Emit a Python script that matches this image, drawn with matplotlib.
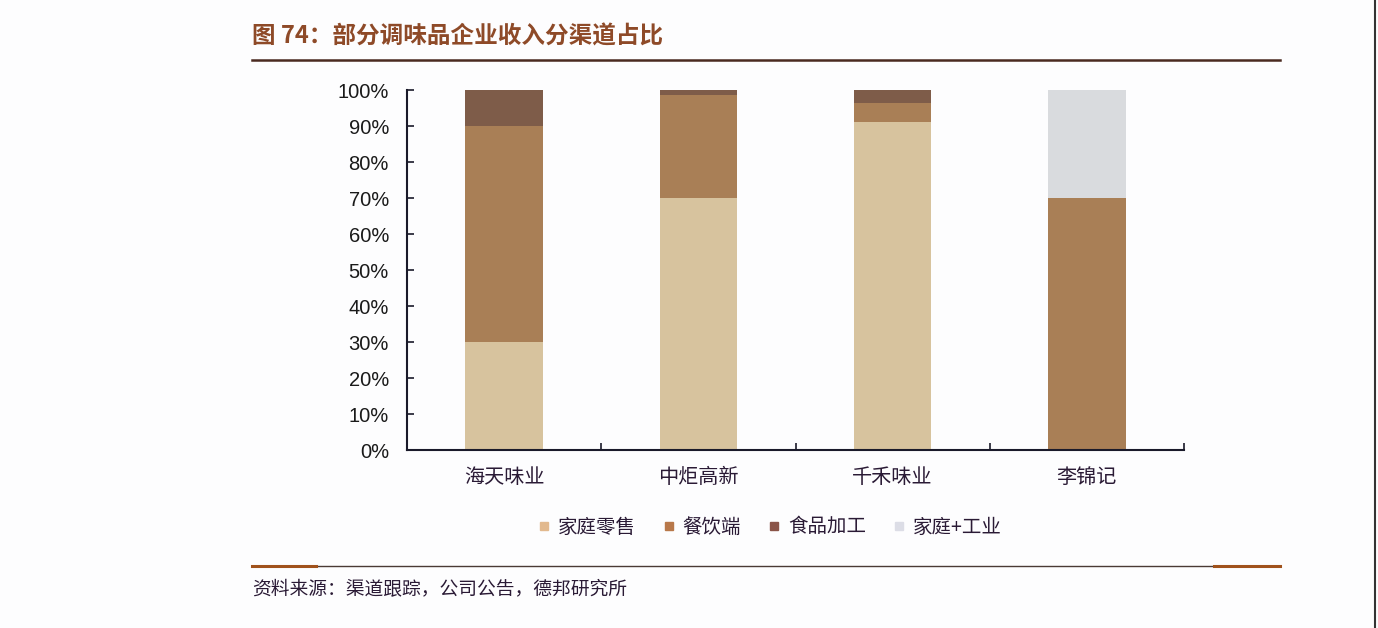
import matplotlib
matplotlib.use("Agg")
import matplotlib.pyplot as plt
from matplotlib.lines import Line2D
from matplotlib.ticker import FixedLocator, PercentFormatter
import numpy as np

plt.rcParams['font.family'] = ['Noto Sans CJK SC', 'DejaVu Sans']

categories = ['海天味业', '中炬高新', '千禾味业', '李锦记']
series_names = ['家庭零售', '餐饮端', '食品加工', '家庭+工业']
home_retail = [30, 70, 91, 0]
catering = [60, 28.5, 5.5, 70]
food_processing = [10, 1.5, 3.5, 0]
home_industry = [0, 0, 0, 30]
yticks = [0, 10, 20, 30, 40, 50, 60, 70, 80, 90, 100]

title = '图 74：部分调味品企业收入分渠道占比'
source = '资料来源：渠道跟踪，公司公告，德邦研究所'

colors = ['#D7C39E', '#A97F56', '#7E5C49', '#D9DBDE']
legend_colors = ['#E2B98E', '#B8784A', '#8A5448', '#DCDDE6']

fig = plt.figure(figsize=(13.78, 6.28), dpi=100)
fig.patch.set_facecolor('#FDFDFE')

ax = fig.add_axes([407/1378, 1-450/628, (1184-407)/1378, 360/628])
ax.set_facecolor('none')

x = np.arange(len(categories))
bottom = np.zeros(len(categories))
handles = []
for vals, name, c, lc in zip([home_retail, catering, food_processing, home_industry],
                             series_names, colors, legend_colors):
    v = np.array(vals, dtype=float)
    ax.bar(x, v, bottom=bottom, width=0.4, color=c, label=name, linewidth=0)
    bottom += v
    handles.append(Line2D([0], [0], marker='s', linestyle='none', markersize=6,
                          markerfacecolor=lc, markeredgecolor=lc, label=name))

ax.set_xlim(-0.5, len(categories) - 0.5)
ax.set_ylim(0, 100)
ax.yaxis.set_major_locator(FixedLocator(yticks))
ax.yaxis.set_major_formatter(PercentFormatter(decimals=0))
ax.set_xticks(x)
ax.set_xticklabels(categories, fontsize=14.5, color='#2A1A35')
ax.tick_params(axis='x', length=0, pad=12)
ax.set_xticks(np.arange(len(categories) + 1) - 0.5, minor=True)
ax.tick_params(axis='x', which='minor', direction='in', length=5, width=1.2, color='#1A1A2A')
ax.tick_params(axis='y', direction='in', length=5, width=1.2, color='#1A1A2A',
               labelsize=14.5, labelcolor='#1A1A1A', pad=13)
for lbl in ax.get_yticklabels():
    lbl.set_family(['Liberation Sans', 'DejaVu Sans'])
for s in ['top', 'right']:
    ax.spines[s].set_visible(False)
for s in ['left', 'bottom']:
    ax.spines[s].set_linewidth(1.5)
    ax.spines[s].set_color('#1A1A2A')

fig.legend(handles=handles, loc='center', bbox_to_anchor=(768/1378, 1-527/628), ncol=4,
           frameon=False, fontsize=14, handletextpad=0.2, columnspacing=1.2,
           handlelength=1.0, labelcolor='#2A1A35')

fig.text(252/1378, 1-36/628, title, fontsize=17, fontweight='bold', color='#8E4A28',
         va='center', ha='left')
fig.add_artist(Line2D([252/1378, 1280/1378], [1-60/628, 1-60/628], color='#4A2A20', linewidth=1.8))

fig.add_artist(Line2D([252/1378, 1280/1378], [1-566/628, 1-566/628], color='#4A3A35', linewidth=1.0))
fig.add_artist(Line2D([252/1378, 316/1378], [1-566/628, 1-566/628], color='#A0521C', linewidth=2.2))
fig.add_artist(Line2D([1214/1378, 1280/1378], [1-566/628, 1-566/628], color='#A0521C', linewidth=2.2))
fig.text(252/1378, 1-590/628, source, fontsize=13.5, color='#2A1A35', va='center', ha='left')

fig.add_artist(Line2D([1375/1378, 1375/1378], [0, 1], color='#333333', linewidth=1.5))

fig.savefig('out.png', dpi=100, facecolor=fig.get_facecolor())
